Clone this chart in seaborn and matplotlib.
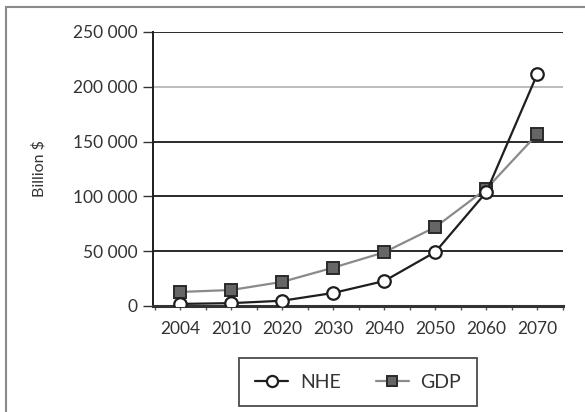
import matplotlib
matplotlib.use("Agg")
import matplotlib.pyplot as plt
import matplotlib.ticker as mticker
from matplotlib.patches import Rectangle
from matplotlib.lines import Line2D
import seaborn as sns
import pandas as pd

years = ["2004", "2010", "2020", "2030", "2040", "2050", "2060", "2070"]
nhe = [1900, 2600, 4800, 11900, 22800, 49300, 104000, 212000]
gdp = [12800, 14600, 22000, 35000, 49000, 72000, 107000, 157000]
y_ticks = [0, 50000, 100000, 150000, 200000, 250000]

df = pd.DataFrame({
    "year": years * 2,
    "value": nhe + gdp,
    "series": ["NHE"] * len(years) + ["GDP"] * len(years),
})

sns.set_theme(style="white")
plt.rcParams["font.family"] = ["Lato", "DejaVu Sans"]

fig = plt.figure(figsize=(5.85, 4.12), dpi=100)
ax = fig.add_axes([153 / 585, 1 - 306 / 412, (563 - 153) / 585, (306 - 32) / 412])

palette = {"NHE": "#1e1e1e", "GDP": "#8a8a8a"}
sns.lineplot(data=df, x="year", y="value", hue="series", palette=palette,
             sort=False, lw=1.6, legend=False, ax=ax, zorder=3)

line_nhe, line_gdp = ax.lines[0], ax.lines[1]
line_nhe.set(marker="o", markersize=9, markerfacecolor="white",
             markeredgecolor="#1e1e1e", markeredgewidth=1.6)
line_gdp.set(marker="s", markersize=8.5, markerfacecolor="#666666",
             markeredgecolor="#2a2a2a", markeredgewidth=1.4)
line_gdp.set_zorder(3)
line_nhe.set_zorder(4)

ax.set_xlim(-0.53, 7.5)
ax.set_ylim(0, 250000)
ax.set_yticks(y_ticks)
ax.yaxis.set_major_formatter(mticker.FuncFormatter(
    lambda v, p: f"{int(v):,}".replace(",", " ")))
ax.set_xticks(range(len(years)))
ax.set_xticklabels(years)
ax.xaxis.set_minor_locator(mticker.FixedLocator([i + 0.5 for i in range(-1, len(years))]))

ax.set_xlabel("")
ax.set_ylabel("Billion $", fontsize=11.5, color="#333333", labelpad=19)

for s in ["top", "right"]:
    ax.spines[s].set_visible(False)
ax.spines["left"].set_color("#1e1e1e")
ax.spines["left"].set_linewidth(1.4)
ax.spines["bottom"].set_color("#333333")
ax.spines["bottom"].set_linewidth(2.2)

ax.tick_params(axis="y", which="major", direction="out", length=7, width=1,
               color="#333333", labelsize=12.5, labelcolor="#333333", pad=4, left=True)
ax.tick_params(axis="x", which="both", direction="out", length=3, width=1,
               color="#555555", labelsize=12.5, labelcolor="#333333", pad=8, bottom=True)

ax.yaxis.grid(True, color="#2a2a2a", linewidth=1.4)
ax.xaxis.grid(False)
for val, gl in zip(y_ticks, ax.get_ygridlines()):
    if val == 200000:
        gl.set_color("#b0b0b0")
        gl.set_linewidth(1.2)
ax.set_axisbelow(True)

handles = [
    Line2D([], [], color="#1e1e1e", lw=1.6, marker="o", markersize=8,
           markerfacecolor="white", markeredgecolor="#1e1e1e", markeredgewidth=1.6),
    Line2D([], [], color="#8a8a8a", lw=1.6, marker="s", markersize=7.5,
           markerfacecolor="#666666", markeredgecolor="#2a2a2a", markeredgewidth=1.4),
]
leg = fig.legend(handles, ["NHE", "GDP"], loc="upper center",
                 bbox_to_anchor=(358 / 585, 1 - 358 / 412), ncol=2,
                 frameon=True, fancybox=False, fontsize=14, handlelength=1.7,
                 columnspacing=1.8, handletextpad=0.6, borderpad=0.8,
                 borderaxespad=0, labelcolor="#333333")
leg.get_frame().set_edgecolor("#1e1e1e")
leg.get_frame().set_linewidth(1.3)

fig.patches.append(Rectangle((6 / 585, -0.1), 1.2, (412 - 7) / 412 + 0.1,
                             transform=fig.transFigure, fill=False,
                             edgecolor="#8a8a8a", linewidth=1.5))

fig.savefig("out.png", dpi=100, facecolor="white")
